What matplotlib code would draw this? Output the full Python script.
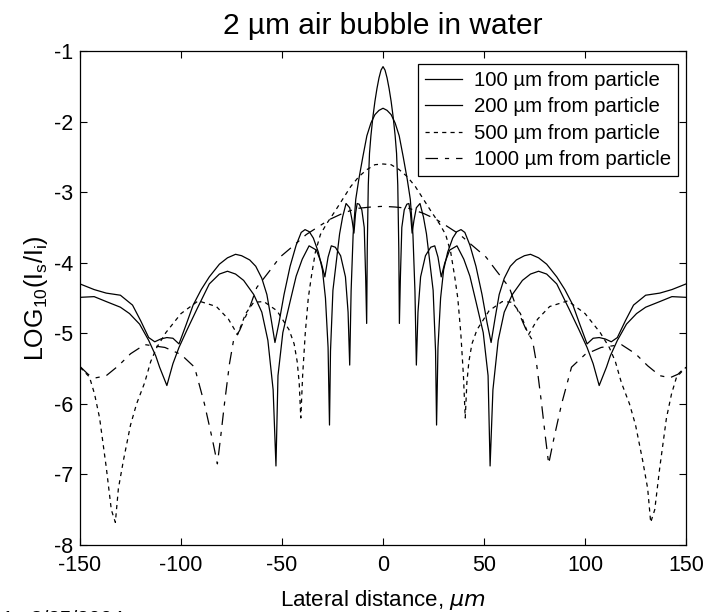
import matplotlib
matplotlib.use("Agg")
from matplotlib import pyplot as plt

plt.rcParams["font.family"] = ["Liberation Sans", "DejaVu Sans"]
plt.rcParams["mathtext.default"] = "regular"
plt.rcParams["lines.scale_dashes"] = False
plt.rcParams["axes.unicode_minus"] = False

# 100 um from particle
x100 = [-150, -143, -137, -130, -124, -120, -116, -113, -110, -107, -104, -101, -97.5, -94, -90, -86, -81, -77, -73, -70,
        -66, -63, -60, -57.5, -55.5, -53.5, -51.5, -49, -46, -43, -40.5, -38.6, -36.5, -34.5, -32, -30, -28.5, -27.2, -26.5, -26,
        -24.8, -23, -21.5, -20, -18.3, -16.5, -15.3, -14.4, -13.6, -12.8, -11.8, -10.5, -9.3, -8.6, -8.1, -7.8, -7.3, -6.7, -6, -5,
        -4, -3, -2, -1,
        0, 1, 2, 3, 4, 5, 6, 6.7, 7.3, 7.8, 8.1, 8.6, 9.3, 10.5, 11.8, 12.8, 13.6, 14.4, 15.3, 16.5,
        18.3, 20, 21.5, 23, 24.8, 26, 26.5, 27.2, 28.5, 30, 32, 34.5, 36.5, 38.6, 40.5, 43, 46, 49, 51.5, 53.5,
        55.5, 57.5, 60, 63, 66, 70, 73, 77, 81, 86, 90, 94, 97.5, 101, 104, 107, 110, 113, 116, 120,
        124, 130, 137, 143, 150]
y100 = [-4.30, -4.38, -4.43, -4.46, -4.6, -4.82, -5.06, -5.12, -5.08, -5.06, -5.07, -5.15, -4.88, -4.6, -4.38, -4.2, -4.02, -3.93, -3.88, -3.9,
        -3.96, -4.05, -4.22, -4.45, -4.78, -5.13, -4.85, -4.45, -4.05, -3.75, -3.57, -3.53, -3.56, -3.65, -3.85, -4.1, -4.5, -5.2, -6.3, -5.25,
        -4.39, -3.95, -3.59, -3.35, -3.16, -3.22, -3.4, -3.58, -3.3, -3.16, -3.17, -3.25, -3.5, -4.2, -4.86, -3.8, -2.9, -2.45, -2.2, -1.93,
        -1.71, -1.53, -1.38, -1.27,
        -1.22, -1.27, -1.38, -1.53, -1.71, -1.93, -2.2, -2.45, -2.9, -3.8, -4.86, -4.2, -3.5, -3.25, -3.17, -3.16, -3.3, -3.58, -3.4, -3.22,
        -3.16, -3.35, -3.59, -3.95, -4.39, -5.25, -6.3, -5.2, -4.5, -4.1, -3.85, -3.65, -3.56, -3.53, -3.57, -3.75, -4.05, -4.45, -4.85, -5.13,
        -4.78, -4.45, -4.22, -4.05, -3.96, -3.9, -3.88, -3.93, -4.02, -4.2, -4.38, -4.6, -4.88, -5.15, -5.07, -5.06, -5.08, -5.12, -5.06, -4.82,
        -4.6, -4.46, -4.43, -4.38, -4.30]

# 200 um from particle
x200 = [-150, -143, -137, -130, -125.5, -120.5, -116, -112.5, -110.6, -107, -104, -101, -97, -92, -86, -81, -77, -73, -69, -64,
        -60, -57, -54.4, -53, -52, -49.6, -46, -43, -40, -36.6, -33, -30.6, -28.8, -27.2, -25.6, -23.6, -21, -18.6, -17.3, -16.5,
        -15.8, -14.8, -13.5, -12, -10, -8, -6, -4, -2,
        0, 2, 4, 6, 8, 10, 12, 13.5, 14.8, 15.8, 16.5, 17.3, 18.6, 21, 23.6, 25.6, 27.2, 28.8, 30.6, 33,
        36.6, 40, 43, 46, 49.6, 52, 53, 54.4, 57, 60, 64, 69, 73, 77, 81, 86, 92, 97, 101, 104,
        107, 110.6, 112.5, 116, 120.5, 125.5, 130, 137, 143, 150]
y200 = [-4.49, -4.48, -4.55, -4.63, -4.72, -4.87, -5.1, -5.32, -5.48, -5.74, -5.43, -5.2, -4.95, -4.65, -4.3, -4.16, -4.12, -4.16, -4.25, -4.45,
        -4.7, -5.1, -5.8, -6.88, -5.6, -4.99, -4.55, -4.19, -3.95, -3.76, -3.82, -4.0, -4.2, -3.92, -3.76, -3.78, -3.9, -4.2, -4.7, -5.45,
        -4.4, -3.6, -3.1, -2.82, -2.5, -2.2, -2.02, -1.9, -1.84,
        -1.81, -1.84, -1.9, -2.02, -2.2, -2.5, -2.82, -3.1, -3.6, -4.4, -5.45, -4.7, -4.2, -3.9, -3.78, -3.76, -3.92, -4.2, -4.0, -3.82,
        -3.76, -3.95, -4.19, -4.55, -4.99, -5.6, -6.88, -5.8, -5.1, -4.7, -4.45, -4.25, -4.16, -4.12, -4.16, -4.3, -4.65, -4.95, -5.2, -5.43,
        -5.74, -5.48, -5.32, -5.1, -4.87, -4.72, -4.63, -4.55, -4.48, -4.49]

# 500 um from particle
x500 = [-150, -145.3, -142.8, -140.3, -137, -134.5, -132.5, -131, -128.5, -125, -122, -118, -115, -112, -107.5, -100, -91.5, -82.5, -76.5, -72,
        -68, -64, -59, -52.5, -46.5, -44, -42.5, -41.5, -40.7, -39.8, -38.5, -37, -35.5, -33.5, -31, -28, -24, -20, -16, -12,
        -8, -4,
        0, 4, 8, 12, 16, 20, 24, 28, 31, 33.5, 35.5, 37, 38.5, 39.8, 40.7, 41.5, 42.5, 44, 46.5, 52.5,
        59, 64, 68, 72, 76.5, 82.5, 91.5, 100, 107.5, 112, 115, 118, 122, 125, 128.5, 131, 132.5, 134.5, 137, 140.3,
        142.8, 145.3, 150]
y500 = [-5.48, -5.62, -5.86, -6.2, -6.9, -7.5, -7.68, -7.2, -6.8, -6.3, -6.0, -5.7, -5.4, -5.2, -4.99, -4.72, -4.54, -4.62, -4.8, -5.02,
        -4.72, -4.56, -4.55, -4.68, -4.95, -5.15, -5.4, -5.7, -6.2, -5.6, -5.0, -4.5, -4.2, -3.85, -3.6, -3.45, -3.28, -3.1, -2.92, -2.78,
        -2.68, -2.61,
        -2.6, -2.61, -2.68, -2.78, -2.92, -3.1, -3.28, -3.45, -3.6, -3.85, -4.2, -4.5, -5.0, -5.6, -6.2, -5.7, -5.4, -5.15, -4.95, -4.68,
        -4.55, -4.56, -4.72, -5.02, -4.8, -4.62, -4.54, -4.72, -4.99, -5.2, -5.4, -5.7, -6.0, -6.3, -6.8, -7.2, -7.68, -7.5, -6.9, -6.2,
        -5.86, -5.62, -5.48]

# 1000 um from particle
x1000 = [-150, -146, -142, -137, -131, -125, -118, -108, -100, -93.3, -88.4, -84.5, -82, -80.5, -78.5, -76, -74, -71, -66, -62.5,
         -56, -51, -44, -38, -31, -26, -20, -13, -6,
         0, 6, 13, 20, 26, 31, 38, 44, 51, 56, 62.5, 66, 71, 74, 76, 78.5, 80.5, 82, 84.5, 88.4,
         93.3, 100, 108, 118, 125, 131, 137, 142, 146, 150]
y1000 = [-5.47, -5.58, -5.63, -5.6, -5.46, -5.29, -5.16, -5.2, -5.3, -5.48, -6.0, -6.5, -6.85, -6.5, -6.0, -5.43, -5.1, -4.96, -4.63, -4.35,
         -4.11, -3.92, -3.75, -3.6, -3.47, -3.38, -3.3, -3.23, -3.21,
         -3.2, -3.21, -3.23, -3.3, -3.38, -3.47, -3.6, -3.75, -3.92, -4.11, -4.35, -4.63, -4.96, -5.1, -5.43, -6.0, -6.5, -6.85, -6.5, -6.0,
         -5.48, -5.3, -5.2, -5.16, -5.29, -5.46, -5.6, -5.63, -5.58, -5.47]

labels = ["100 \u00b5m from particle", "200 \u00b5m from particle",
          "500 \u00b5m from particle", "1000 \u00b5m from particle"]
xticks = [-150, -100, -50, 0, 50, 100, 150]
yticks = [-8, -7, -6, -5, -4, -3, -2, -1]

fig = plt.figure(figsize=(7.08, 6.12), dpi=100)
ax = fig.add_axes([0.113, 0.1095, 0.856, 0.807])

ax.plot(x100, y100, color="k", lw=0.9, label=labels[0])
ax.plot(x200, y200, color="k", lw=0.9, label=labels[1])
ax.plot(x500, y500, color="k", lw=0.9, dashes=(3, 3), label=labels[2])
ax.plot(x1000, y1000, color="k", lw=0.9, dashes=(9, 5, 3, 5), label=labels[3])

ax.set_xlim(-150, 150)
ax.set_ylim(-8, -1)
ax.set_xticks(xticks)
ax.set_yticks(yticks)
ax.tick_params(direction="in", top=True, right=True, length=5, width=0.8,
               labelsize=15.5)
ax.tick_params(axis="x", pad=7)
ax.tick_params(axis="y", pad=5)
for s in ax.spines.values():
    s.set_linewidth(0.9)

ax.set_title("2 \u00b5m air bubble in water", fontsize=21.5, pad=12)
ax.set_xlabel("Lateral distance, $\\mathit{\\mu m}$", fontsize=16, labelpad=9)
ax.set_ylabel("LOG$_{10}$(I$_s$/I$_i$)", fontsize=18)
ax.yaxis.set_label_coords(-0.05, 0.5)

leg = ax.legend(loc="upper right", bbox_to_anchor=(0.987, 0.974), fontsize=14.7,
                frameon=True, fancybox=False, framealpha=1, edgecolor="k",
                borderpad=0.35, labelspacing=0.36, handlelength=1.8,
                handletextpad=0.6, borderaxespad=0)
leg.get_frame().set_linewidth(0.9)

# date stamp, almost entirely below the lower edge as in the reference
fig.text(0.003, -0.0215, "1.  3/25/2004", fontsize=15, va="baseline")

fig.savefig("out.png", dpi=100)
